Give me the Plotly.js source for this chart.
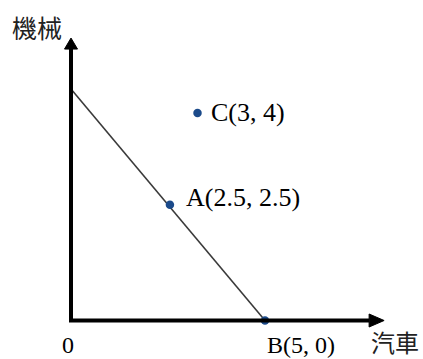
<!DOCTYPE html>
<html>
<head>
<meta charset="utf-8">
<script src="https://cdn.plot.ly/plotly-3.0.1.min.js"></script>
<style>
html,body{margin:0;padding:0;background:#fff;}
#chart{width:423px;height:359px;}
</style>
</head>
<body>
<div id="chart"></div>
<script>
// Data
const lineX = [0, 5];
const lineY = [5, 0];
const pointNames = ["A", "B", "C"];
const pointX = [2.55, 5, 3.26];
const pointY = [2.5, 0, 4.48];
const pointLabels = ["A(2.5, 2.5)", "B(5, 0)", "C(3, 4)"];
const xAxisLabel = "汽車";
const yAxisLabel = "機械";
const originLabel = "0";
const xAxisEnd = 8.07;
const yAxisEnd = 6.1;

// Layout geometry
const W = 423, H = 359;
const mL = 50, mR = 30, mT = 10, mB = 20;
const pxPerX = 38.8, pxPerY = 46.3;
const x0px = 71, y0px = 320.5;
const xmin = -(x0px - mL) / pxPerX;
const xmax = xmin + (W - mL - mR) / pxPerX;
const ymin = -((H - mB) - y0px) / pxPerY;
const ymax = ymin + (H - mT - mB) / pxPerY;

const serif = "Liberation Serif, Times New Roman, serif";
const cjk = "Noto Sans CJK TC, Noto Sans CJK SC, sans-serif";

// arrow geometry (in px, converted to data units)
const xHeadLen = 15 / pxPerX, xHeadHalf = 6.5 / pxPerY;
const yHeadLen = 11 / pxPerY, yHeadHalf = 6.5 / pxPerX;

const shapes = [
  {type: "path", xref: "x", yref: "y",
   path: `M 0,${yAxisEnd - yHeadLen} L 0,0 L ${xAxisEnd - xHeadLen},0`,
   line: {color: "#000", width: 4}},
  {type: "path", xref: "x", yref: "y",
   path: `M ${xAxisEnd},0 L ${xAxisEnd - xHeadLen},${xHeadHalf} L ${xAxisEnd - xHeadLen},${-xHeadHalf} Z`,
   fillcolor: "#000", line: {color: "#000", width: 1}},
  {type: "path", xref: "x", yref: "y",
   path: `M 0,${yAxisEnd} L ${-yHeadHalf},${yAxisEnd - yHeadLen} L ${yHeadHalf},${yAxisEnd - yHeadLen} Z`,
   fillcolor: "#000", line: {color: "#000", width: 1}}
];

const labelShift = {A: [14, 7], B: [0, -24], C: [12, 1]};
const labelSize = {A: 26, B: 24, C: 26};
const annotations = pointNames.map((n, i) => ({
  x: pointX[i], y: pointY[i], xref: "x", yref: "y",
  text: pointLabels[i], showarrow: false,
  xanchor: "left", yanchor: "middle",
  xshift: labelShift[n][0], yshift: labelShift[n][1],
  font: {family: serif, size: labelSize[n], color: "#000"}
}));
annotations.push(
  {x: 0, y: 0, xref: "x", yref: "y", text: originLabel, showarrow: false,
   xanchor: "center", yanchor: "middle", xshift: -3, yshift: -24,
   font: {family: serif, size: 24, color: "#000"}},
  {x: xAxisEnd, y: 0, xref: "x", yref: "y", text: xAxisLabel, showarrow: false,
   xanchor: "center", yanchor: "middle", xshift: 11, yshift: -21,
   font: {family: cjk, size: 24, color: "#222"}},
  {x: 0, y: yAxisEnd, xref: "x", yref: "y", text: yAxisLabel, showarrow: false,
   xanchor: "center", yanchor: "middle", xshift: -34, yshift: 11,
   font: {family: cjk, size: 25, color: "#222"}}
);

const traces = [
  {x: lineX, y: lineY, type: "scatter", mode: "lines",
   line: {color: "#3a3a3a", width: 1.6}, hoverinfo: "skip"},
  {x: pointX, y: pointY, type: "scatter", mode: "markers",
   marker: {color: "#1b4a8a", size: 8.5}, hoverinfo: "skip"}
];

const layout = {
  width: W, height: H,
  margin: {l: mL, r: mR, t: mT, b: mB, pad: 0},
  paper_bgcolor: "#fff", plot_bgcolor: "#fff",
  showlegend: false,
  xaxis: {range: [xmin, xmax], visible: false, fixedrange: true},
  yaxis: {range: [ymin, ymax], visible: false, fixedrange: true},
  shapes: shapes,
  annotations: annotations
};

Plotly.newPlot("chart", traces, layout, {staticPlot: true, displayModeBar: false});
</script>
</body>
</html>
